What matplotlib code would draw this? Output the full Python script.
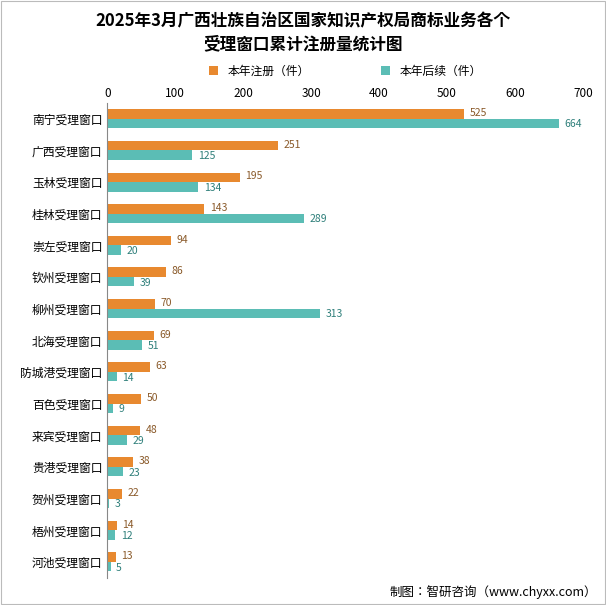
import matplotlib.pyplot as plt
from matplotlib import font_manager
import numpy as np

# pick a sans CJK font matplotlib can actually see
cjk = sorted({f.name for f in font_manager.fontManager.ttflist if 'CJK' in f.name})
if not cjk:
    for p in font_manager.findSystemFonts():
        if 'cjk' in p.lower():
            font_manager.fontManager.addfont(p)
    cjk = sorted({f.name for f in font_manager.fontManager.ttflist if 'CJK' in f.name})
pref = [n for n in cjk if 'Sans' in n and n.endswith('SC')] or [n for n in cjk if 'Sans' in n] or cjk
plt.rcParams['font.family'] = pref[:1] + ['DejaVu Sans']

categories = ['南宁受理窗口', '广西受理窗口', '玉林受理窗口', '桂林受理窗口', '崇左受理窗口',
              '钦州受理窗口', '柳州受理窗口', '北海受理窗口', '防城港受理窗口', '百色受理窗口',
              '来宾受理窗口', '贵港受理窗口', '贺州受理窗口', '梧州受理窗口', '河池受理窗口']
reg = [525, 251, 195, 143, 94, 86, 70, 69, 63, 50, 48, 38, 22, 14, 13]
renew = [664, 125, 134, 289, 20, 39, 313, 51, 14, 9, 29, 23, 3, 12, 5]

orange = '#E8892F'
teal = '#5BBDB5'

fig = plt.figure(figsize=(6.06, 6.05), dpi=100)
ax = fig.add_axes([0.177, 0.045, 0.785, 0.785])

y = np.arange(len(categories))
h = 0.3
ax.barh(y - h / 2, reg, height=h, color=orange, label='本年注册（件）')
ax.barh(y + h / 2, renew, height=h, color=teal, label='本年后续（件）')
for i in range(len(categories)):
    ax.text(reg[i] + 8, y[i] - h / 2 - 0.03, str(reg[i]), va='center', fontsize=7.5, color='#8a5a2a')
    ax.text(renew[i] + 8, y[i] + h / 2 + 0.03, str(renew[i]), va='center', fontsize=7.5, color='#2e7f7a')

ax.set_ylim(len(categories) - 0.5, -0.5)
ax.set_xlim(0, 700)
ax.set_xticks(range(0, 701, 100))
ax.xaxis.tick_top()
ax.set_yticks(y)
ax.set_yticklabels(categories, fontsize=8.5)
ax.tick_params(axis='x', labelsize=8.5, length=0, pad=2)
ax.tick_params(axis='y', length=0)
for s in ['top', 'right', 'bottom']:
    ax.spines[s].set_visible(False)
ax.spines['left'].set_color('#888888')

fig.text(0.5, 0.98, '2025年3月广西壮族自治区国家知识产权局商标业务各个\n受理窗口累计注册量统计图',
         ha='center', va='top', fontsize=12, fontweight='bold', linespacing=1.35)
ax.legend(loc='lower center', bbox_to_anchor=(0.5, 1.03), ncol=2, frameon=False,
          fontsize=8.5, handlelength=0.8, handleheight=0.8, columnspacing=6)
fig.text(0.985, 0.01, '制图：智研咨询（www.chyxx.com）', ha='right', va='bottom', fontsize=9)
fig.patches.append(plt.Rectangle((0.002, 0.002), 0.996, 0.996, transform=fig.transFigure,
                                 fill=False, edgecolor='#bbbbbb', lw=0.8))

fig.savefig('out.png', dpi=100)
